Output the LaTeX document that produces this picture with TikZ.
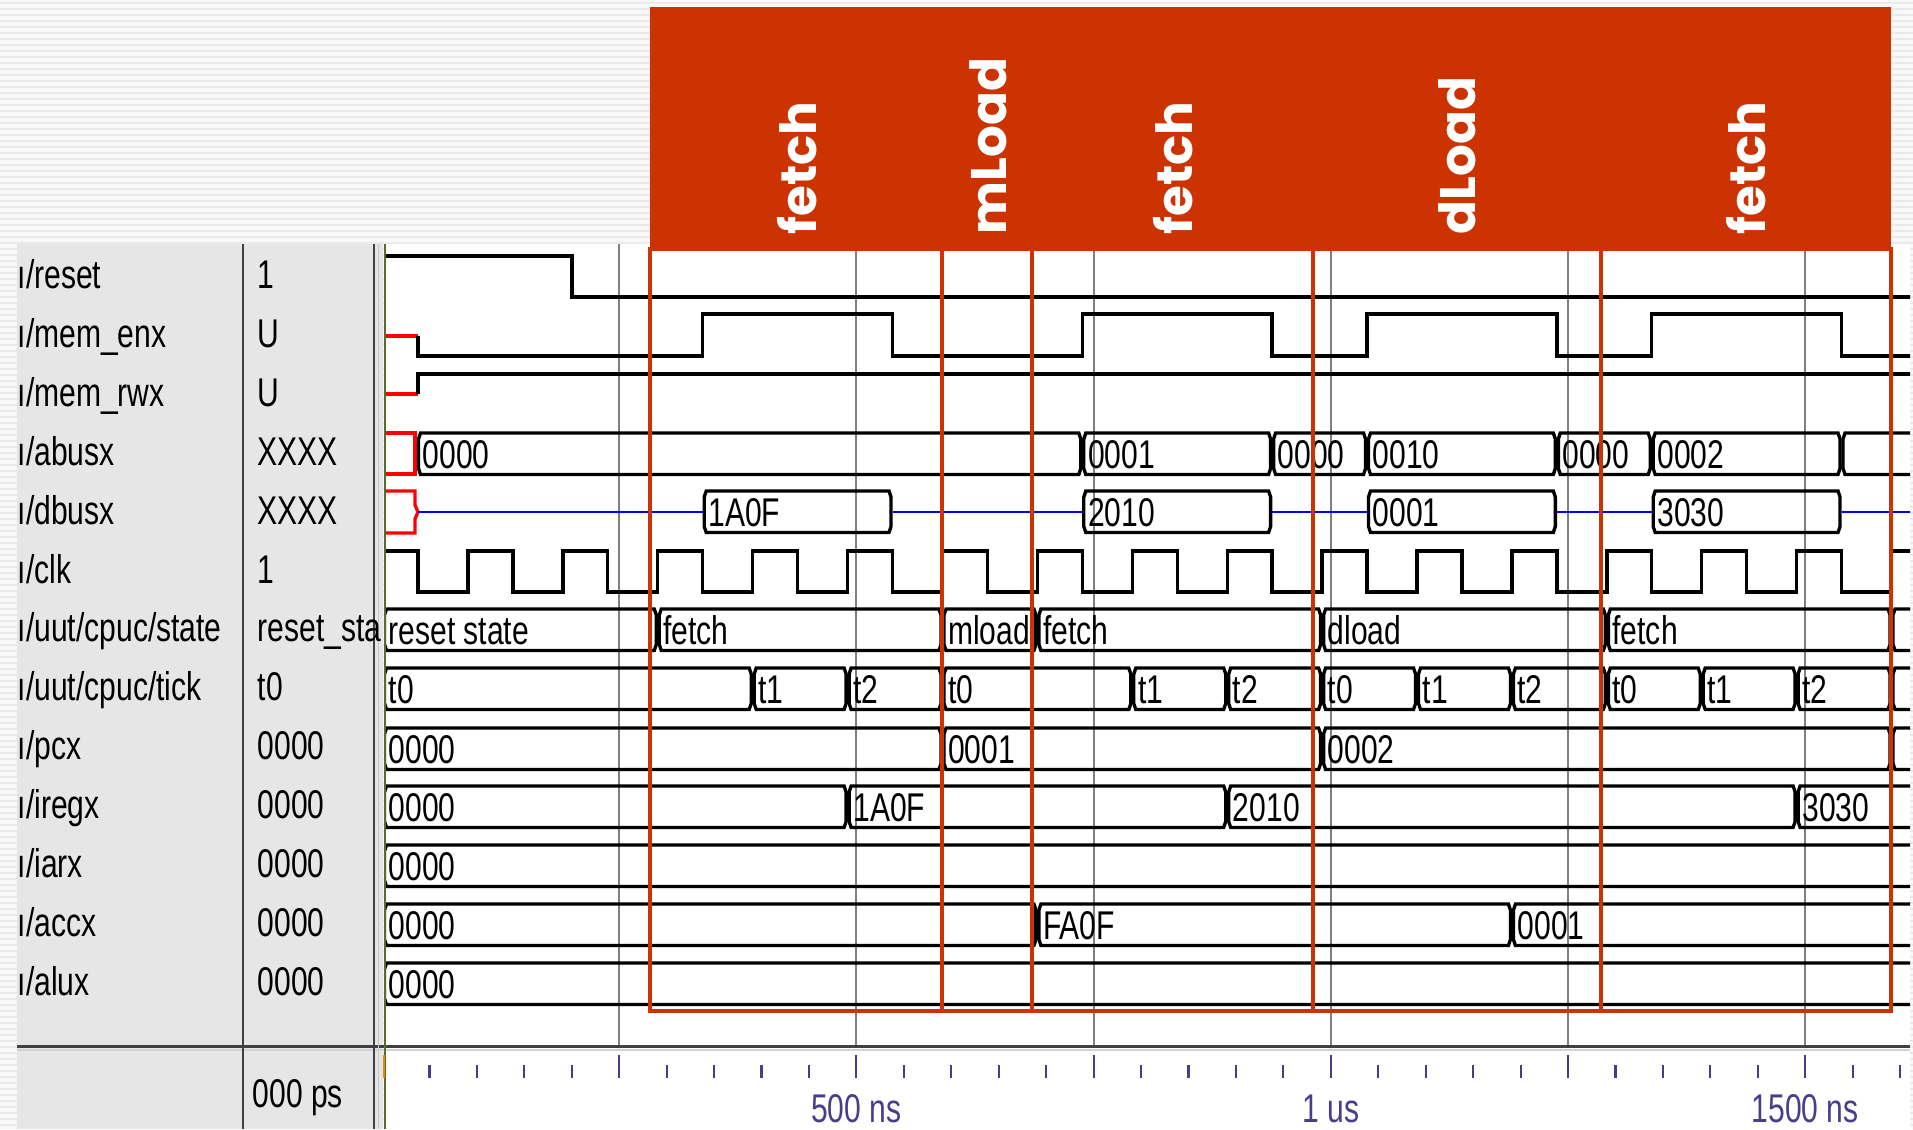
\documentclass[tikz,border=0pt]{standalone}
\usepackage{fontspec}
\usepackage{xcolor}
\usepackage{tikz}
\newfontfamily\wavefont{Liberation Sans}[FakeStretch=0.75]
\newfontfamily\hdrfont{Poppins}
\definecolor{phasered}{RGB}{204,51,0}
\definecolor{panelgray}{RGB}{230,230,230}
\definecolor{darkline}{RGB}{64,64,64}
\definecolor{gridgray}{RGB}{128,128,128}
\definecolor{startgreen}{RGB}{88,110,40}
\definecolor{tickblue}{RGB}{72,61,139}
\definecolor{zblue}{RGB}{0,0,255}
\definecolor{xred}{RGB}{255,0,0}
\definecolor{stripea}{RGB}{248,248,248}
\definecolor{stripeb}{RGB}{234,234,234}

\newcommand{\wseg}[5]{%
  \draw[wave] ({#2+3.5},#4) -- ({#3-3.5},#4) -- ({#3-1.5},#4+6) -- ({#3-1.5},#4+35.5)
    -- ({#3-3.5},#4+41.5) -- ({#2+3.5},#4+41.5) -- ({#2+1.5},#4+35.5) -- ({#2+1.5},#4+6) -- cycle;
  \node[busval] (#1) at ({#2+5},#4+35) {#5};}

\begin{document}
\begin{tikzpicture}[
    x=0.01cm, y=-0.01cm,
    wave/.style={draw=black, line width=0.95pt, line join=miter},
    xwave/.style={draw=xred, line width=0.95pt},
    zline/.style={draw=zblue, line width=0.8pt},
    signame/.style={anchor=base west, inner sep=0pt, font=\wavefont\fontsize{11.4}{13}\selectfont},
    sigval/.style={signame},
    busval/.style={signame},
    gridline/.style={draw=gridgray, line width=0.6pt},
    divider/.style={draw=darkline, line width=0.7pt},
    phasebox/.style={draw=phasered, line width=1.1pt},
    phaselabel/.style={rotate=90, anchor=base west, inner sep=0pt, text=white, font=\hdrfont\bfseries\fontsize{14.2}{16}\selectfont},
    tick/.style={draw=tickblue, line width=0.6pt},
    timelbl/.style={anchor=base, inner sep=0pt, text=tickblue, font=\wavefont\fontsize{11.4}{13}\selectfont}
]
    \useasboundingbox (0,0) rectangle (1913,1129);
    \fill[stripea] (0,0) rectangle (1913,1129);
    \foreach \s in {3,9,...,1129}
        \draw[stripeb, line width=0.55pt] (0,\s) -- (1913,\s);

    \fill[panelgray] (17,244) rectangle (383,1129);
    \fill[white] (386,244) rectangle (1910,1129);
    \foreach \k in {1,...,6}
        \draw[gridline] ({382+237.2*\k},244) -- ({382+237.2*\k},1046);
    \fill[phasered] (650,7) rectangle (1891,249);

    \draw[darkline, line width=0.85pt] (17,1046) -- (1910,1046);
    \draw[gray!35, line width=0.55pt] (17,1050) -- (1910,1050);
    \draw[divider] (243,244) -- (243,1129);
    \draw[divider] (374,244) -- (374,1129);
    \draw[gray!45, line width=0.5pt] (378.5,244) -- (378.5,1129);
    \draw[startgreen, line width=0.8pt] (385,244) -- (385,1129);
    \draw[orange, line width=0.6pt] (384,1055) -- (384,1078);

    \foreach \n [count=\i from 0] in {reset,mem\_enx,mem\_rwx,abusx,dbusx,clk,uut/cpuc/state,uut/cpuc/tick,pcx,iregx,iarx,accx,alux}
        \node[signame] (n\i) at (17,{288.5+58.9*\i}) {ı/\n};
    \foreach \v [count=\i from 0] in {1,U,U,XXXX,XXXX,1,reset\_sta,t0,0000,0000,0000,0000,0000}
        \node[sigval] (v\i) at (257,{288.5+58.9*\i}) {\v};

    \begin{scope}
        \clip (386,244) rectangle (1910,1046);
        \draw[wave] (383,256) -- (572,256) -- (572,297) -- (1930,297);
        \draw[xwave] (383,336) -- (418,336);
        \draw[wave] (418,336) -- (418,356) -- (702.7,356) -- (702.7,314) -- (892.5,314) -- (892.5,356)
            -- (1082.3,356) -- (1082.3,314) -- (1272.1,314) -- (1272.1,356) -- (1367,356) -- (1367,314)
            -- (1556.8,314) -- (1556.8,356) -- (1651.7,356) -- (1651.7,314) -- (1841.5,314) -- (1841.5,356) -- (1930,356);
        \draw[xwave] (383,394) -- (418,394);
        \draw[wave] (418,394) -- (418,374) -- (1930,374);

        \draw[xwave] (383,433) -- (415,433) -- (415,474) -- (383,474);
        \wseg{a1}{417}{1082.3}{433}{0000}
        \wseg{a2}{1082.3}{1272.1}{433}{0001}
        \wseg{a3}{1272.1}{1367}{433}{0000}
        \wseg{a4}{1367}{1556.8}{433}{0010}
        \wseg{a5}{1556.8}{1651.7}{433}{0000}
        \wseg{a6}{1651.7}{1841.5}{433}{0002}
        \wseg{a7}{1841.5}{1935}{433}{}

        \draw[xwave] (383,491) -- (415,491) -- (415,505) -- (418,512) -- (415,519) -- (415,533) -- (383,533);
        \draw[zline] (418,512) -- (702.7,512) (892.5,512) -- (1082.3,512) (1272.1,512) -- (1367,512)
            (1556.8,512) -- (1651.7,512) (1841.5,512) -- (1930,512);
        \wseg{d1}{702.7}{892.5}{491}{1A0F}
        \wseg{d2}{1082.3}{1272.1}{491}{2010}
        \wseg{d3}{1367}{1556.8}{491}{0001}
        \wseg{d4}{1651.7}{1841.5}{491}{3030}

        \draw[wave] (383,551) \foreach \k in {0,...,15}{ -- ({418+94.9*\k},551) -- ({418+94.9*\k},592)
            -- ({468+94.9*\k},592) -- ({468+94.9*\k},551) } -- (1930,551);

        \wseg{s1}{383}{657.8}{609}{reset state}
        \wseg{s2}{657.8}{942.5}{609}{fetch}
        \wseg{s3}{942.5}{1037.4}{609}{mload}
        \wseg{s4}{1037.4}{1322.1}{609}{fetch}
        \wseg{s5}{1322.1}{1606.8}{609}{dload}
        \wseg{s6}{1606.8}{1891.5}{609}{fetch}
        \wseg{s7}{1891.5}{1935}{609}{}

        \wseg{k1}{383}{752.7}{668}{t0}
        \wseg{k2}{752.7}{847.6}{668}{t1}
        \wseg{k3}{847.6}{942.5}{668}{t2}
        \wseg{k4}{942.5}{1132.3}{668}{t0}
        \wseg{k5}{1132.3}{1227.2}{668}{t1}
        \wseg{k6}{1227.2}{1322.1}{668}{t2}
        \wseg{k7}{1322.1}{1417}{668}{t0}
        \wseg{k8}{1417}{1511.9}{668}{t1}
        \wseg{k9}{1511.9}{1606.8}{668}{t2}
        \wseg{k10}{1606.8}{1701.7}{668}{t0}
        \wseg{k11}{1701.7}{1796.6}{668}{t1}
        \wseg{k12}{1796.6}{1891.5}{668}{t2}
        \wseg{k13}{1891.5}{1935}{668}{}

        \wseg{p1}{383}{942.5}{728}{0000}
        \wseg{p2}{942.5}{1322.1}{728}{0001}
        \wseg{p3}{1322.1}{1891.5}{728}{0002}
        \wseg{p4}{1891.5}{1935}{728}{}

        \wseg{r1}{383}{847.6}{786}{0000}
        \wseg{r2}{847.6}{1227.2}{786}{1A0F}
        \wseg{r3}{1227.2}{1796.6}{786}{2010}
        \wseg{r4}{1796.6}{1935}{786}{3030}

        \wseg{i1}{383}{1935}{845}{0000}

        \wseg{c1}{383}{1037.4}{904}{0000}
        \wseg{c2}{1037.4}{1511.9}{904}{FA0F}
        \wseg{c3}{1511.9}{1935}{904}{0001}

        \wseg{u1}{383}{1935}{963}{0000}
    \end{scope}

    \foreach \a/\b in {650/942,942/1032,1032/1313,1313/1601,1601/1891}
        \draw[phasebox] (\a,249) rectangle (\b,1011);
    \foreach \x/\t [count=\i] in {816/fetch,1006/mLoad,1192/fetch,1475/dLoad,1765/fetch}
        \node[phaselabel] (h\i) at (\x,235) {\t};

    \foreach \k in {1,...,32}{
        \pgfmathtruncatemacro\m{mod(\k,5)}
        \ifnum\m=0
            \draw[tick] ({382+47.44*\k},1055) -- ({382+47.44*\k},1078);
        \else
            \draw[tick] ({382+47.44*\k},1065) -- ({382+47.44*\k},1078);
        \fi}
    \node[timelbl] (t500) at (856.4,1122) {500 ns};
    \node[timelbl] (t1000) at (1330.8,1122) {1 us};
    \node[timelbl] (t1500) at (1805.2,1122) {1500 ns};
    \node[sigval] (tnow) at (252,1107) {000 ps};
\end{tikzpicture}
\end{document}
